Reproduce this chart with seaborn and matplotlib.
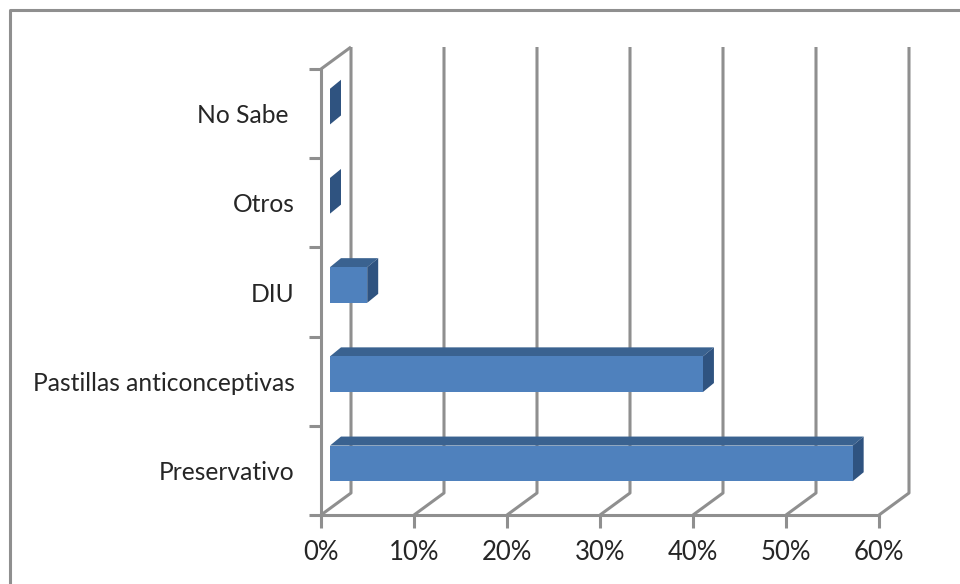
import matplotlib
matplotlib.use("Agg")
import matplotlib.pyplot as plt
import pandas as pd
import seaborn as sns
from matplotlib.patches import Polygon

categories = ["No Sabe ", "Otros", "DIU", "Pastillas anticonceptivas", "Preservativo"]
values = [0, 0, 4, 40.1, 56.2]
x_ticks = [0, 10, 20, 30, 40, 50, 60]
x_labels = ["0%", "10%", "20%", "30%", "40%", "50%", "60%"]

W, H = 960, 584
GRAY = "#8f8f8f"
FRONT = "#4f81bd"
TOP = "#3a6290"
SIDE = "#2f5380"
TEXT = "#262626"

sns.set_theme(style="white")
plt.rcParams["font.family"] = ["Lato", "DejaVu Sans"]

fig = plt.figure(figsize=(W / 100, H / 100), dpi=100)
# front plane of the fake 3d box, pixel positions off the image
ax = fig.add_axes([321 / W, 1 - 515 / H, (879 - 321) / W, (515 - 69) / H])
df = pd.DataFrame({"cat": categories, "val": values})
sns.barplot(data=df, x="val", y="cat", color=FRONT, saturation=1, width=0.4, ax=ax, zorder=3)
ax.set_xlim(0, 60)
ax.set_ylim(4.5, -0.5)
ax.patch.set_alpha(0)
sns.despine(ax=ax, top=True, right=True)
for s in ["left", "bottom"]:
    ax.spines[s].set_color(GRAY)
    ax.spines[s].set_linewidth(2.2)
ax.set_xlabel("")
ax.set_ylabel("")
ax.set_xticks(x_ticks)
ax.set_xticklabels(x_labels)
ax.tick_params(axis="x", length=9, width=2.2, color=GRAY, labelcolor=TEXT, labelsize=18.5, pad=9, bottom=True)
ax.set_yticks([i - 0.5 for i in range(6)], minor=True)
ax.tick_params(axis="y", which="minor", length=9, width=2.2, color=GRAY, left=True)
ax.tick_params(axis="y", which="major", length=0, labelsize=17.7, labelcolor=TEXT, pad=19)


def px(x, y):
    # data coords -> image pixels (y down)
    a, b = ax.transData.transform((x, y))
    return a, H - b


def poly(points, color, z):
    xy = [(a, H - b) for a, b in points]
    fig.add_artist(Polygon(xy, closed=True, transform=None, facecolor=color, edgecolor="none", zorder=z))


def line(points, z=1):
    xs = [a for a, _ in points]
    ys = [H - b for _, b in points]
    fig.add_artist(plt.Line2D(xs, ys, transform=None, color=GRAY, lw=2.2, zorder=z, solid_capstyle="butt"))


# back wall gridlines with the floor slant
DX, DY = 30, 22
for t in x_ticks:
    a, bot = px(t, 4.5)
    _, top = px(t, -0.5)
    line([(a, bot), (a + DX, bot - DY), (a + DX, top - DY)])
a0, top0 = px(0, -0.5)
line([(a0, top0), (a0 + DX, top0 - DY)])

# redraw bars with depth, shifted off the front plane
bx, by = 9, -7
dx, dy = 11, -9
for bar in ax.patches:
    x1 = bar.get_x() + bar.get_width()
    y0, y1 = bar.get_y(), bar.get_y() + bar.get_height()
    l, t = px(0, y0)
    r, b = px(x1, y1)
    l, r, t, b = l + bx, r + bx, t + by, b + by
    if bar.get_width() > 0:
        poly([(l, t), (l + dx, t + dy), (r + dx, t + dy), (r, t)], TOP, 2)
        poly([(l, t), (r, t), (r, b), (l, b)], FRONT, 3)
    poly([(r, t), (r + dx, t + dy), (r + dx, b + dy), (r, b)], SIDE, 2)
    bar.set_visible(False)

# picture frame, only top and left show
line([(9.5, H), (9.5, 9.5), (W, 9.5)], z=5)

fig.savefig("out.png", dpi=100)
